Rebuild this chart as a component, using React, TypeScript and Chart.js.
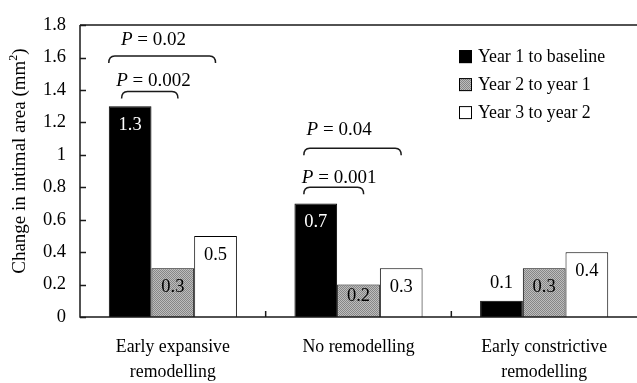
import { useEffect, useRef } from "react";
import { Chart, registerables } from "chart.js";
Chart.register(...registerables);

const categories: string[][] = [
  ["Early expansive", "remodelling"],
  ["No remodelling"],
  ["Early constrictive", "remodelling"],
];
const seriesNames = ["Year 1 to baseline", "Year 2 to year 1", "Year 3 to year 2"];
const year1ToBaseline = [1.3, 0.7, 0.1];
const year2ToYear1 = [0.3, 0.2, 0.3];
const year3ToYear2 = [0.5, 0.3, 0.4];
const yTicks = [0, 0.2, 0.4, 0.6, 0.8, 1, 1.2, 1.4, 1.6, 1.8];
const yAxisTitleMain = "Change in intimal area (mm";
const yAxisTitleSup = "2";
const yAxisTitleEnd = ")";

// P-value brackets
const pGroup = [0, 0, 1, 1];
const pToSeries = [1, 2, 1, 2];
const pLevel = [1.39, 1.61, 0.8, 1.04];
const pTextLevel = [1.455, 1.71, 0.86, 1.155];
const pValue = ["0.002", "0.02", "0.001", "0.04"];
// bracket start, in bar widths relative to first bar centre
const bracketStartOffset = [-0.2, -0.5, -0.28, -0.28];

const FONT = "'Liberation Serif', 'Times New Roman', serif";

function makeGrayPattern(ctx: CanvasRenderingContext2D) {
  const c = document.createElement("canvas");
  c.width = 2;
  c.height = 2;
  const g = c.getContext("2d")!;
  g.fillStyle = "#bdbdbd";
  g.fillRect(0, 0, 2, 2);
  g.fillStyle = "#868686";
  g.fillRect(0, 0, 1, 1);
  g.fillRect(1, 1, 1, 1);
  return ctx.createPattern(c, "repeat")!;
}

export default function App() {
  const ref = useRef<HTMLCanvasElement>(null);

  useEffect(() => {
    document.body.style.margin = "0";
    const canvas = ref.current!;
    const ctx0 = canvas.getContext("2d")!;
    const grayPat = makeGrayPattern(ctx0);
    const fills: any[] = ["#000000", grayPat, "#ffffff"];

    const overlay = {
      id: "overlay",
      afterDatasetsDraw(chart: any) {
        const ctx: CanvasRenderingContext2D = chart.ctx;
        const { left, right, top, bottom } = chart.chartArea;
        const ys = chart.scales.y;
        const xs = chart.scales.x;
        ctx.save();
        ctx.strokeStyle = "#1a1a1a";
        ctx.lineWidth = 1.5;
        // frame lines
        ctx.beginPath();
        ctx.moveTo(left, top);
        ctx.lineTo(right, top);
        ctx.moveTo(left, top);
        ctx.lineTo(left, bottom);
        ctx.lineTo(right, bottom);
        ctx.stroke();
        // inward y ticks
        ctx.beginPath();
        yTicks.forEach((v) => {
          const py = Math.round(ys.getPixelForValue(v)) + 0.5;
          ctx.moveTo(left, py);
          ctx.lineTo(left + 6, py);
        });
        // category boundary ticks
        for (let i = 1; i < categories.length; i++) {
          const px = (xs.getPixelForTick(i - 1) + xs.getPixelForTick(i)) / 2;
          ctx.moveTo(px, bottom);
          ctx.lineTo(px, bottom - 6);
        }
        ctx.stroke();

        // y axis title (rotated, with superscript)
        ctx.save();
        ctx.translate(20, top + (bottom - top) / 2 - 10);
        ctx.rotate(-Math.PI / 2);
        ctx.fillStyle = "#000";
        ctx.textBaseline = "middle";
        ctx.textAlign = "left";
        ctx.font = `19px ${FONT}`;
        const w1 = ctx.measureText(yAxisTitleMain).width;
        const w3 = ctx.measureText(yAxisTitleEnd).width;
        ctx.font = `12px ${FONT}`;
        const w2 = ctx.measureText(yAxisTitleSup).width;
        const tot = w1 + w2 + w3;
        let tx = -tot / 2;
        ctx.font = `19px ${FONT}`;
        ctx.fillText(yAxisTitleMain, tx, 0);
        tx += w1;
        ctx.font = `12px ${FONT}`;
        ctx.fillText(yAxisTitleSup, tx, -6);
        tx += w2;
        ctx.font = `19px ${FONT}`;
        ctx.fillText(yAxisTitleEnd, tx, 0);
        ctx.restore();

        // data labels
        ctx.font = `18.5px ${FONT}`;
        ctx.textAlign = "center";
        ctx.textBaseline = "middle";
        chart.data.datasets.forEach((ds: any, di: number) => {
          const meta = chart.getDatasetMeta(di);
          meta.data.forEach((el: any, i: number) => {
            const v = ds.data[i];
            const h = el.base - el.y;
            let ly: number;
            let color = di === 0 ? "#ffffff" : "#000000";
            if (h > 40) ly = el.y + 19;
            else if (h > 25) ly = (el.y + el.base) / 2 - 5;
            else {
              ly = el.y - 18;
              color = "#000000";
            }
            ctx.fillStyle = color;
            ctx.fillText(String(v), el.x, ly);
          });
        });

        // P-value brackets
        ctx.strokeStyle = "#1a1a1a";
        ctx.lineWidth = 1.5;
        pGroup.forEach((g, k) => {
          const b0 = chart.getDatasetMeta(0).data[g];
          const bt = chart.getDatasetMeta(pToSeries[k]).data[g];
          const w = b0.width;
          const x1 = b0.x + w * bracketStartOffset[k];
          const x2 = pToSeries[k] === 1 ? bt.x + w * 0.12 : bt.x;
          const y = ys.getPixelForValue(pLevel[k]);
          const d = 7;
          ctx.beginPath();
          ctx.moveTo(x1, y + d);
          ctx.quadraticCurveTo(x1, y, x1 + 6, y);
          ctx.lineTo(x2 - 6, y);
          ctx.quadraticCurveTo(x2, y, x2, y + d);
          ctx.stroke();
          const cx = b0.x + w / 2 + 2;
          const ty = ys.getPixelForValue(pTextLevel[k]);
          ctx.fillStyle = "#000";
          ctx.textAlign = "left";
          ctx.font = `italic 19px ${FONT}`;
          const wP = ctx.measureText("P").width;
          ctx.font = `19px ${FONT}`;
          const rest = " = " + pValue[k];
          const wR = ctx.measureText(rest).width;
          const sx = cx - (wP + wR) / 2;
          ctx.font = `italic 19px ${FONT}`;
          ctx.fillText("P", sx, ty);
          ctx.font = `19px ${FONT}`;
          ctx.fillText(rest, sx + wP, ty);
        });

        // legend
        const lx = right - 178;
        const ly0 = top + 25;
        ctx.lineWidth = 1;
        ctx.font = `17.8px ${FONT}`;
        ctx.textAlign = "left";
        ctx.textBaseline = "middle";
        seriesNames.forEach((name, i) => {
          const by = ly0 + i * 28;
          ctx.fillStyle = fills[i];
          ctx.fillRect(lx, by, 13, 13);
          ctx.strokeStyle = "#000";
          ctx.strokeRect(lx + 0.5, by + 0.5, 12, 12);
          ctx.fillStyle = "#000";
          ctx.fillText(name, lx + 19, by + 7);
        });
        ctx.restore();
      },
    };

    const chart = new Chart(canvas, {
      type: "bar",
      data: {
        labels: categories as any,
        datasets: [year1ToBaseline, year2ToYear1, year3ToYear2].map((d, i) => ({
          label: seriesNames[i],
          data: d,
          backgroundColor: fills[i],
          borderColor: "#000000",
          borderWidth: 1,
          barPercentage: 1,
          categoryPercentage: 0.69,
        })),
      },
      options: {
        responsive: false,
        animation: false,
        layout: { padding: { top: 20, right: 0, left: 0, bottom: 0 } },
        plugins: { legend: { display: false }, tooltip: { enabled: false } },
        scales: {
          x: {
            grid: { display: false, drawTicks: false },
            border: { display: false },
            ticks: {
              color: "#000",
              font: { family: FONT, size: 17.8, lineHeight: 1.45 },
              padding: 17,
              maxRotation: 0,
              autoSkip: false,
            },
            afterFit: (s: any) => {
              s.height = 66;
            },
          },
          y: {
            min: 0,
            max: 1.8,
            grid: { display: false, drawTicks: false },
            border: { display: false },
            ticks: {
              stepSize: 0.2,
              color: "#000",
              font: { family: FONT, size: 18.5 },
              padding: 14,
              callback: (v: any) => String(Math.round(Number(v) * 10) / 10),
            },
            title: { display: false },
            afterFit: (s: any) => {
              s.width = 80;
            },
          },
        },
      },
      plugins: [overlay],
    });
    return () => chart.destroy();
  }, []);

  return (
    <div style={{ position: "absolute", left: 0, top: 0, width: 637, height: 383, background: "#fff" }}>
      <canvas ref={ref} width={637} height={383} />
    </div>
  );
}
